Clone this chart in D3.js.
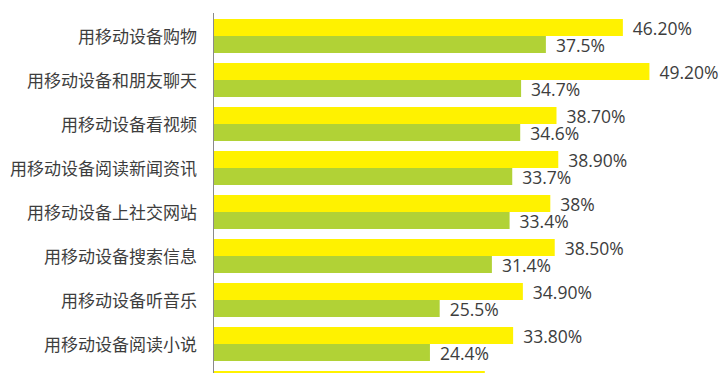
<!DOCTYPE html>
<html>
<head>
<meta charset="utf-8">
<script src="https://cdn.jsdelivr.net/npm/d3@7"></script>
<style>
  body { margin: 0; background: #fff; }
  svg { display: block; }
</style>
</head>
<body>
<div id="chart"></div>
<script>
// data (the 9th row is cut off at the bottom edge)
var categories = ["用移动设备购物", "用移动设备和朋友聊天", "用移动设备看视频", "用移动设备阅读新闻资讯",
                  "用移动设备上社交网站", "用移动设备搜索信息", "用移动设备听音乐", "用移动设备阅读小说", ""];
var seriesA = [46.2, 49.2, 38.7, 38.9, 38, 38.5, 34.9, 33.8, 30.6];
var seriesB = [37.5, 34.7, 34.6, 33.7, 33.4, 31.4, 25.5, 24.4, null];
var labelsA = ["46.20%", "49.20%", "38.70%", "38.90%", "38%", "38.50%", "34.90%", "33.80%", ""];
var labelsB = ["37.5%", "34.7%", "34.6%", "33.7%", "33.4%", "31.4%", "25.5%", "24.4%", ""];
var seriesKeys = ["a", "b"];

var width = 724, height = 373;
var colors = { a: "#fff200", b: "#b1d236" };

var svg = d3.select("#chart").append("svg")
    .attr("width", width)
    .attr("height", height);

var x = d3.scaleLinear().domain([0, 50]).range([214, 656.5]);
var y0 = d3.scaleBand().domain(d3.range(categories.length))
    .range([19, 405]).paddingInner(10 / 44).paddingOuter(0);
var y1 = d3.scaleBand().domain(seriesKeys).range([0, y0.bandwidth()]);

var rows = categories.map(function(c, i) {
    var bars = [];
    if (seriesA[i] != null) bars.push({ key: "a", v: seriesA[i], t: labelsA[i] });
    if (seriesB[i] != null) bars.push({ key: "b", v: seriesB[i], t: labelsB[i] });
    return { i: i, name: c, bars: bars };
});

var g = svg.append("g").selectAll("g")
    .data(rows)
    .enter().append("g")
        .attr("transform", function(d) { return "translate(0," + y0(d.i) + ")"; });

g.selectAll("rect")
    .data(function(d) { return d.bars; })
    .enter().append("rect")
        .attr("x", x(0))
        .attr("y", function(d) { return y1(d.key); })
        .attr("width", function(d) { return x(d.v) - x(0); })
        .attr("height", y1.bandwidth())
        .attr("fill", function(d) { return colors[d.key]; });

g.selectAll("text.val")
    .data(function(d) { return d.bars.filter(function(b) { return b.t; }); })
    .enter().append("text")
        .attr("class", "val")
        .attr("x", function(d) { return x(d.v) + 10; })
        .attr("y", function(d) { return y1(d.key) + y1.bandwidth() / 2 + 1; })
        .attr("dy", "0.35em")
        .attr("font-family", "'Open Sans', 'Noto Sans', sans-serif")
        .attr("font-size", "17.5px")
        .attr("fill", "#3d3d3d")
        .text(function(d) { return d.t; });

g.filter(function(d) { return d.name; })
  .append("text")
    .attr("x", 197)
    .attr("y", y0.bandwidth() / 2 + 1)
    .attr("dy", "0.35em")
    .attr("text-anchor", "end")
    .attr("font-family", "'Noto Sans CJK SC', sans-serif")
    .attr("font-size", "17px")
    .attr("fill", "#3d3d3d")
    .text(function(d) { return d.name; });

// vertical axis line
svg.append("line")
    .attr("x1", 213.5).attr("x2", 213.5)
    .attr("y1", 13).attr("y2", height)
    .attr("stroke", "#8a8a8a")
    .attr("stroke-width", 1);
</script>
</body>
</html>
